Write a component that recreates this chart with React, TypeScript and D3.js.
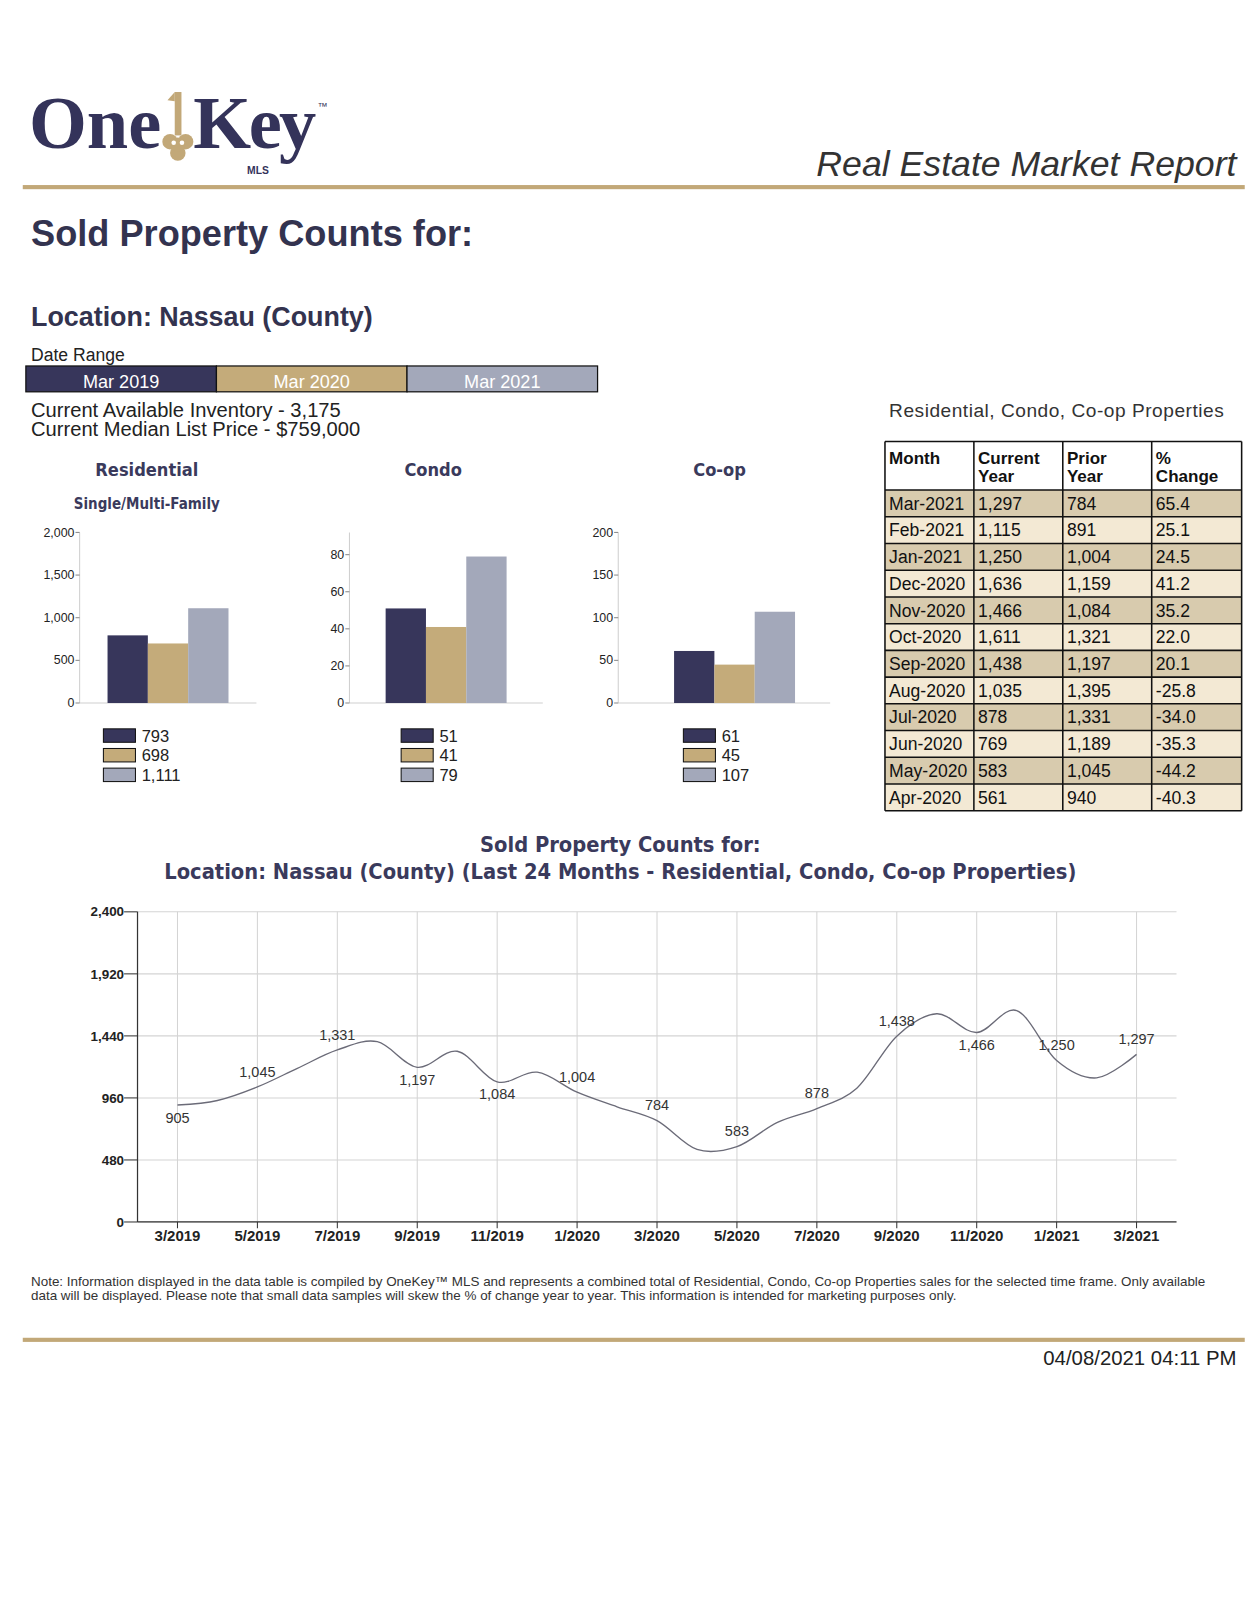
import * as d3 from 'd3'

// Mar 2019 .. Mar 2021, combined sold counts (Residential + Condo + Co-op)
const months = [
  '3/2019', '4/2019', '5/2019', '6/2019', '7/2019', '8/2019', '9/2019', '10/2019', '11/2019',
  '12/2019', '1/2020', '2/2020', '3/2020', '4/2020', '5/2020', '6/2020', '7/2020', '8/2020',
  '9/2020', '10/2020', '11/2020', '12/2020', '1/2021', '2/2021', '3/2021',
]
const soldCounts = [
  905, 940, 1045, 1189, 1331, 1395, 1197, 1321, 1084, 1159, 1004, 891, 784,
  561, 583, 769, 878, 1035, 1438, 1611, 1466, 1636, 1250, 1115, 1297,
]
const lineTicks = [0, 480, 960, 1440, 1920, 2400]

const periods = ['Mar 2019', 'Mar 2020', 'Mar 2021']
const residential = [793, 698, 1111]
const condo = [51, 41, 79]
const coop = [61, 45, 107]
const residentialTicks = [0, 500, 1000, 1500, 2000]
const condoTicks = [0, 20, 40, 60, 80]
const coopTicks = [0, 50, 100, 150, 200]

const monthNames = ['Jan', 'Feb', 'Mar', 'Apr', 'May', 'Jun', 'Jul', 'Aug', 'Sep', 'Oct', 'Nov', 'Dec']

const NAVY = '#37365b'
const TAN = '#c4ab7a'
const GRAY = '#a3a8ba'
const GOLD = '#c2a878'
const periodColors = [NAVY, TAN, GRAY]

const NARROW = '"Liberation Sans Narrow", "Liberation Sans", Arial, sans-serif'
const SANS = '"Liberation Sans", Arial, sans-serif'
const COND = '"DejaVu Sans Condensed", "DejaVu Sans", sans-serif'

const fmt = d3.format(',')

function tableLabel(m: string) {
  const [mm, yy] = m.split('/')
  return `${monthNames[+mm - 1]}-${yy}`
}

interface BarProps {
  title: string
  subtitle?: string
  values: number[]
  ticks: number[]
  domainMax: number
  axisX: number
  barX: number
  endX: number
  titleX: number
  legendX: number
}

function BarChart({ title, subtitle, values, ticks, domainMax, axisX, barX, endX, titleX, legendX }: BarProps) {
  const top = 515
  const bottom = 680
  const y = d3.scaleLinear().domain([0, domainMax]).range([bottom, top])
  const x = d3.scaleBand<string>().domain(periods).range([barX, barX + 117]).padding(0)
  return (
    <g>
      <text x={titleX} y={460} textAnchor="middle" fontFamily={COND} fontWeight="bold" fontSize={17.5} fill="#3a3a5c">
        {title}
      </text>
      {subtitle && (
        <text x={titleX} y={492} textAnchor="middle" fontFamily={COND} fontSize={14.5} fontWeight="bold" fill="#3a3a5c">
          {subtitle}
        </text>
      )}
      <line x1={axisX} x2={axisX} y1={y(domainMax)} y2={bottom} stroke="#cfcfcf" />
      <line x1={axisX} x2={endX} y1={bottom} y2={bottom} stroke="#cfcfcf" />
      {ticks.map(t => (
        <g key={t}>
          <line x1={axisX - 4} x2={axisX} y1={y(t)} y2={y(t)} stroke="#888" />
          <text x={axisX - 5} y={y(t) + 4} textAnchor="end" fontFamily={NARROW} fontSize={12} fill="#222">
            {fmt(t)}
          </text>
        </g>
      ))}
      {values.map((v, i) => (
        <rect
          key={periods[i]}
          x={x(periods[i])}
          y={y(v)}
          width={x.bandwidth()}
          height={bottom - y(v)}
          fill={periodColors[i]}
        />
      ))}
      {values.map((v, i) => (
        <g key={'l' + i} transform={`translate(${legendX},${705 + i * 19})`}>
          <rect x={0} y={0} width={31} height={13} fill={periodColors[i]} stroke="#111" strokeWidth={1} />
          <text x={37} y={12.5} fontFamily={SANS} fontSize={16} fill="#222">
            {fmt(v)}
          </text>
        </g>
      ))}
    </g>
  )
}

function Logo() {
  return (
    <g>
      <text x={28} y={143} fontFamily='"Liberation Serif", serif' fontWeight="bold" fontSize={72} fill="#34335a">
        One
      </text>
      {/* key */}
      <g fill={GOLD}>
        <rect x={169} y={89} width={6.5} height={42} />
        <path d="M169,89 L162,97 L169,98 Z" />
        <circle cx={164.5} cy={137} r={7.5} />
        <circle cx={179.5} cy={137} r={7.5} />
        <circle cx={172} cy={148} r={7.5} />
        <circle cx={172} cy={140} r={7} />
      </g>
      <circle cx={168} cy={138} r={2.2} fill="#fff" />
      <circle cx={176} cy={138} r={2.2} fill="#fff" />
      <text x={187} y={143} fontFamily='"Liberation Serif", serif' fontWeight="bold" fontSize={72} letterSpacing={-2.5} fill="#34335a">
        Key
      </text>
      <text x={307} y={106} fontFamily={SANS} fontSize={10} fill="#34335a">
        ™
      </text>
      <text x={239} y={168} fontFamily={SANS} fontSize={10} fontWeight="bold" fill="#34335a">
        MLS
      </text>
    </g>
  )
}

function LineChart() {
  const left = 133
  const right = 1138
  const top = 882
  const bottom = 1182
  const x = d3.scalePoint<string>().domain(months).range([left, right]).padding(1)
  const y = d3.scaleLinear().domain([0, 2400]).range([bottom, top])
  const line = d3
    .line<number>()
    .x((_, i) => x(months[i]) as number)
    .y(d => y(d))
    .curve(d3.curveCardinal)
  const labelled = months.map((_, i) => i).filter(i => i % 2 === 0)

  return (
    <g>
      <text x={600} y={824} textAnchor="middle" fontFamily={COND} fontWeight="bold" fontSize={21} fill="#3a3a5c">
        Sold Property Counts for:
      </text>
      <text x={600} y={850} textAnchor="middle" fontFamily={COND} fontWeight="bold" fontSize={21} fill="#3a3a5c">
        Location: Nassau (County) (Last 24 Months - Residential, Condo, Co-op Properties)
      </text>
      {lineTicks.map(t => (
        <line key={'h' + t} x1={left} x2={right} y1={y(t)} y2={y(t)} stroke="#d4d4d4" />
      ))}
      {labelled.map(i => (
        <line key={'v' + i} x1={x(months[i])} x2={x(months[i])} y1={top} y2={bottom} stroke="#d4d4d4" />
      ))}
      <line x1={left} x2={left} y1={top} y2={bottom} stroke="#333" strokeWidth={1.2} />
      <line x1={left} x2={right} y1={bottom} y2={bottom} stroke="#333" strokeWidth={1.2} />
      {lineTicks.map(t => (
        <g key={'yt' + t}>
          <line x1={left - 13} x2={left} y1={y(t)} y2={y(t)} stroke="#333" />
          <text x={left - 13} y={y(t) + 4.5} textAnchor="end" fontFamily={SANS} fontWeight="bold" fontSize={13} fill="#222">
            {fmt(t)}
          </text>
        </g>
      ))}
      {labelled.map(i => (
        <g key={'xt' + i}>
          <line x1={x(months[i])} x2={x(months[i])} y1={bottom} y2={bottom + 6} stroke="#333" />
          <text x={x(months[i])} y={bottom + 18} textAnchor="middle" fontFamily={NARROW} fontWeight="bold" fontSize={14.5} fill="#222">
            {months[i]}
          </text>
        </g>
      ))}
      <path d={line(soldCounts) ?? ''} fill="none" stroke="#6b6b78" strokeWidth={1.3} />
      {labelled.map(i => {
        const v = soldCounts[i]
        const neighbours = [soldCounts[i - 1], soldCounts[i + 1]].filter(n => n !== undefined)
        const below = neighbours.every(n => v < n)
        return (
          <text
            key={'dl' + i}
            x={x(months[i])}
            y={below ? y(v) + 17 : y(v) - 10}
            textAnchor="middle"
            fontFamily={NARROW}
            fontSize={14}
            fill="#333"
          >
            {fmt(v)}
          </text>
        )
      })}
    </g>
  )
}

function Table() {
  const cols = [856, 942, 1028, 1114, 1201]
  const headTop = 427
  const headBottom = 474
  const rowH = 25.85
  const last12 = months.map((_, i) => i).slice(-12).reverse()
  const rows = last12.map(i => {
    const cur = soldCounts[i]
    const prior = soldCounts[i - 12]
    return [tableLabel(months[i]), fmt(cur), fmt(prior), (((cur - prior) / prior) * 100).toFixed(1)]
  })
  const headers = [['Month'], ['Current', 'Year'], ['Prior', 'Year'], ['%', 'Change']]
  const bottom = headBottom + rows.length * rowH
  return (
    <g>
      <text x={860} y={403} fontFamily={SANS} fontSize={18.5} fill="#333" letterSpacing={0.5}>
        Residential, Condo, Co-op Properties
      </text>
      <rect x={cols[0]} y={headTop} width={cols[4] - cols[0]} height={headBottom - headTop} fill="#fff" />
      {rows.map((r, ri) => (
        <rect
          key={'bg' + ri}
          x={cols[0]}
          y={headBottom + ri * rowH}
          width={cols[4] - cols[0]}
          height={rowH}
          fill={ri % 2 === 0 ? '#d8cbae' : '#f3e9d4'}
        />
      ))}
      {headers.map((h, ci) =>
        h.map((line, li) => (
          <text key={'h' + ci + li} x={cols[ci] + 4} y={headTop + 22 + li * 17} fontFamily={SANS} fontWeight="bold" fontSize={16.5} fill="#111">
            {line}
          </text>
        ))
      )}
      {rows.map((r, ri) =>
        r.map((cell, ci) => (
          <text key={'c' + ri + ci} x={cols[ci] + 4} y={headBottom + ri * rowH + 19} fontFamily={SANS} fontSize={17} fill="#111">
            {cell}
          </text>
        ))
      )}
      {cols.map(c => (
        <line key={'vc' + c} x1={c} x2={c} y1={headTop} y2={bottom} stroke="#111" strokeWidth={1.5} />
      ))}
      <line x1={cols[0]} x2={cols[4]} y1={headTop} y2={headTop} stroke="#111" strokeWidth={1.5} />
      {rows.map((_, ri) => (
        <line
          key={'hr' + ri}
          x1={cols[0]}
          x2={cols[4]}
          y1={headBottom + ri * rowH}
          y2={headBottom + ri * rowH}
          stroke="#111"
          strokeWidth={1.5}
        />
      ))}
      <line x1={cols[0]} x2={cols[4]} y1={bottom} y2={bottom} stroke="#111" strokeWidth={1.5} />
    </g>
  )
}

export default function App() {
  const rangeX = d3.scaleBand<string>().domain(periods).range([25, 578])
  return (
    <svg
      width={1252}
      height={1620}
      viewBox="0 0 1211 1567"
      style={{ position: 'absolute', left: 0, top: 0, background: '#fff' }}
    >
      <Logo />
      <text x={1196} y={170} textAnchor="end" fontFamily={SANS} fontStyle="italic" fontSize={34.5} fill="#333">
        Real Estate Market Report
      </text>
      <rect x={22} y={179} width={1182} height={4} fill={GOLD} />

      <text x={30} y={238} fontFamily={SANS} fontWeight="bold" fontSize={35} fill="#33334f">
        Sold Property Counts for:
      </text>
      <text x={30} y={315} fontFamily={SANS} fontWeight="bold" fontSize={26} fill="#33334f">
        Location: Nassau (County)
      </text>
      <text x={30} y={349} fontFamily={SANS} fontSize={17} fill="#222">
        Date Range
      </text>
      {periods.map((p, i) => (
        <g key={p}>
          <rect x={rangeX(p)} y={354} width={rangeX.bandwidth()} height={25} fill={periodColors[i]} stroke="#111" strokeWidth={1.2} />
          <text x={(rangeX(p) as number) + rangeX.bandwidth() / 2} y={375} textAnchor="middle" fontFamily={SANS} fontSize={17.5} fill="#fff">
            {p}
          </text>
        </g>
      ))}
      <text x={30} y={403} fontFamily={SANS} fontSize={19.5} fill="#222">
        Current Available Inventory - 3,175
      </text>
      <text x={30} y={422} fontFamily={SANS} fontSize={19.5} fill="#222">
        Current Median List Price - $759,000
      </text>

      <BarChart
        title="Residential"
        subtitle="Single/Multi-Family"
        values={residential}
        ticks={residentialTicks}
        domainMax={2000}
        axisX={77}
        barX={104}
        endX={248}
        titleX={142}
        legendX={100}
      />
      <BarChart
        title="Condo"
        values={condo}
        ticks={condoTicks}
        domainMax={92}
        axisX={338}
        barX={373}
        endX={525}
        titleX={419}
        legendX={388}
      />
      <BarChart
        title="Co-op"
        values={coop}
        ticks={coopTicks}
        domainMax={200}
        axisX={598}
        barX={652}
        endX={803}
        titleX={696}
        legendX={661}
      />

      <Table />
      <LineChart />

      <text x={30} y={1244} fontFamily={SANS} fontSize={13} fill="#333">
        Note: Information displayed in the data table is compiled by OneKey™ MLS and represents a combined total of Residential, Condo, Co-op Properties sales for the selected time frame. Only available
      </text>
      <text x={30} y={1257} fontFamily={SANS} fontSize={13} fill="#333">
        data will be displayed. Please note that small data samples will skew the % of change year to year. This information is intended for marketing purposes only.
      </text>
      <rect x={22} y={1294} width={1182} height={4} fill={GOLD} />
      <text x={1196} y={1320} textAnchor="end" fontFamily={SANS} fontSize={19.7} fill="#222">
        04/08/2021 04:11 PM
      </text>
    </svg>
  )
}
